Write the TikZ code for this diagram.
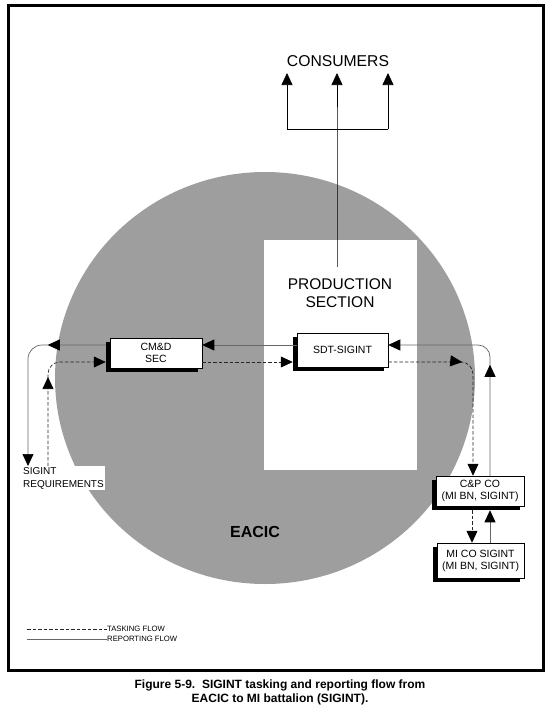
\documentclass[tikz,border=0pt]{standalone}
\usepackage{fontspec}
\setmainfont{Liberation Sans}
\usetikzlibrary{arrows.meta,shadows,decorations.markings}
\begin{document}
\begin{tikzpicture}[x=1pt,y=-1pt,
  tipend/.style={-{Triangle[length=12pt,width=11pt,color=black]}},
  task/.style={dash pattern=on 3.5pt off 2pt, line width=0.7pt, black!85},
  report/.style={line width=0.7pt, black!60},
  midtip/.style={postaction={decorate},decoration={markings,mark=at position #1 with {\arrow{Triangle[length=12pt,width=11pt,color=black]}}}},
  unitbox/.style={draw=black, line width=0.5pt, fill=white, align=center, inner sep=0pt,
     font=\fontsize{10.5}{12}\selectfont,
     drop shadow={shadow xshift=-4pt, shadow yshift=-4pt, fill=black, opacity=1}},
  frameline/.style={line width=3pt, black},
]
\useasboundingbox (0,0) rectangle (550,712);
% frame
\draw[frameline] (8,5) -- (543,5) -- (543,670) -- (8,670) -- cycle;
% EACIC disc
\fill[black!38] (265,378) ellipse [x radius=210pt, y radius=206pt];
% production area
\node[fill=white, minimum width=153pt, minimum height=230pt, inner sep=0pt, anchor=north west] (prodarea) at (264,240) {};
\node[align=center, font=\fontsize{15.5}{17.5}\selectfont, inner sep=0pt] (prod) at (340,293) {PRODUCTION\\SECTION};
\coordinate (prodtop) at (337,267);
% consumers
\node[font=\fontsize{15.7}{17}\selectfont, inner sep=0pt] (cons) at (338,61) {CONSUMERS};
\coordinate (split) at (337,129);
\coordinate (brL) at (287,129);
\coordinate (brR) at (388,129);
\draw[line width=0.7pt, tipend] (prodtop) -- (split) -- (split |- 0,73);
\draw[line width=0.7pt] (brL) -- (brR);
\draw[line width=0.7pt, tipend] (brL) -- (brL |- 0,73);
\draw[line width=0.7pt, tipend] (brR) -- (brR |- 0,73);
% boxes
\node[unitbox, minimum width=92pt, minimum height=30pt] (cmd) at (156,353) {CM\&D\\SEC};
\node[unitbox, minimum width=91pt, minimum height=34pt] (sdt) at (342.5,350) {SDT-SIGINT};
\node[unitbox, minimum width=88pt, minimum height=30pt] (cp) at (480,491) {C\&P CO\\(MI BN, SIGINT)};
\node[unitbox, minimum width=87pt, minimum height=35pt] (mico) at (480.5,560.5) {MI CO SIGINT\\(MI BN, SIGINT)};
% labels
\node[align=left, anchor=north west, font=\fontsize{10}{13}\selectfont, inner sep=1pt, fill=white] (req) at (22,466) {SIGINT\\REQUIREMENTS};
\node[font=\bfseries\fontsize{16}{18}\selectfont, inner sep=0pt] (eacic) at (255,532) {EACIC};
% levels
\coordinate (r1) at (0,345);
\coordinate (t1) at (0,362);
\coordinate (xL1) at (28,0);
\coordinate (xL2) at (48,0);
\coordinate (xR1) at (473,0);
\coordinate (xR2) at (490,0);
% CM&D <-> SDT
\draw[report, tipend] (sdt.west |- r1) -- (cmd.east |- r1);
\draw[task, tipend, shorten >=4pt] (cmd.east |- t1) -- (sdt.west |- t1);
% left side
\draw[report, tipend, rounded corners=14pt, midtip=62pt, shorten <=4pt] (cmd.west |- r1) -- (xL1 |- r1) -- (xL1 |- req.north);
\draw[task, tipend, rounded corners=12pt, midtip=89pt, shorten >=4pt] (xL2 |- req.north) -- (xL2 |- t1) -- (cmd.west |- t1);
% right side
\draw[task, tipend, rounded corners=12pt, midtip=74pt] (sdt.east |- t1) -- (xR1 |- t1) -- (xR1 |- cp.north);
\draw[report, tipend, rounded corners=12pt, midtip=111pt] (xR2 |- cp.north) -- (xR2 |- r1) -- (sdt.east |- r1);
\coordinate (xR3) at (472,0);
\draw[task, tipend, shorten <=4pt] (xR3 |- cp.south) -- (xR3 |- mico.north);
\draw[report, tipend, shorten >=4pt] (xR2 |- mico.north) -- (xR2 |- cp.south);
% legend
\coordinate (lg1) at (27,629);
\coordinate (lg2) at (27,639);
\node[anchor=west, font=\fontsize{7.7}{9}\selectfont, inner sep=0pt] (lt) at (107,629) {TASKING FLOW};
\node[anchor=west, font=\fontsize{7.7}{9}\selectfont, inner sep=0pt] (lr) at (107,639) {REPORTING FLOW};
\draw[task, line width=0.5pt] (lg1) -- (lt.west);
\draw[report, line width=0.5pt] (lg2) -- (lr.west);
% caption
\node[align=center, font=\bfseries\fontsize{12}{14}\selectfont, inner sep=0pt] (cap) at (280,692) {Figure 5-9.\ \ SIGINT tasking and reporting flow from\\EACIC to MI battalion (SIGINT).};
\end{tikzpicture}
\end{document}
